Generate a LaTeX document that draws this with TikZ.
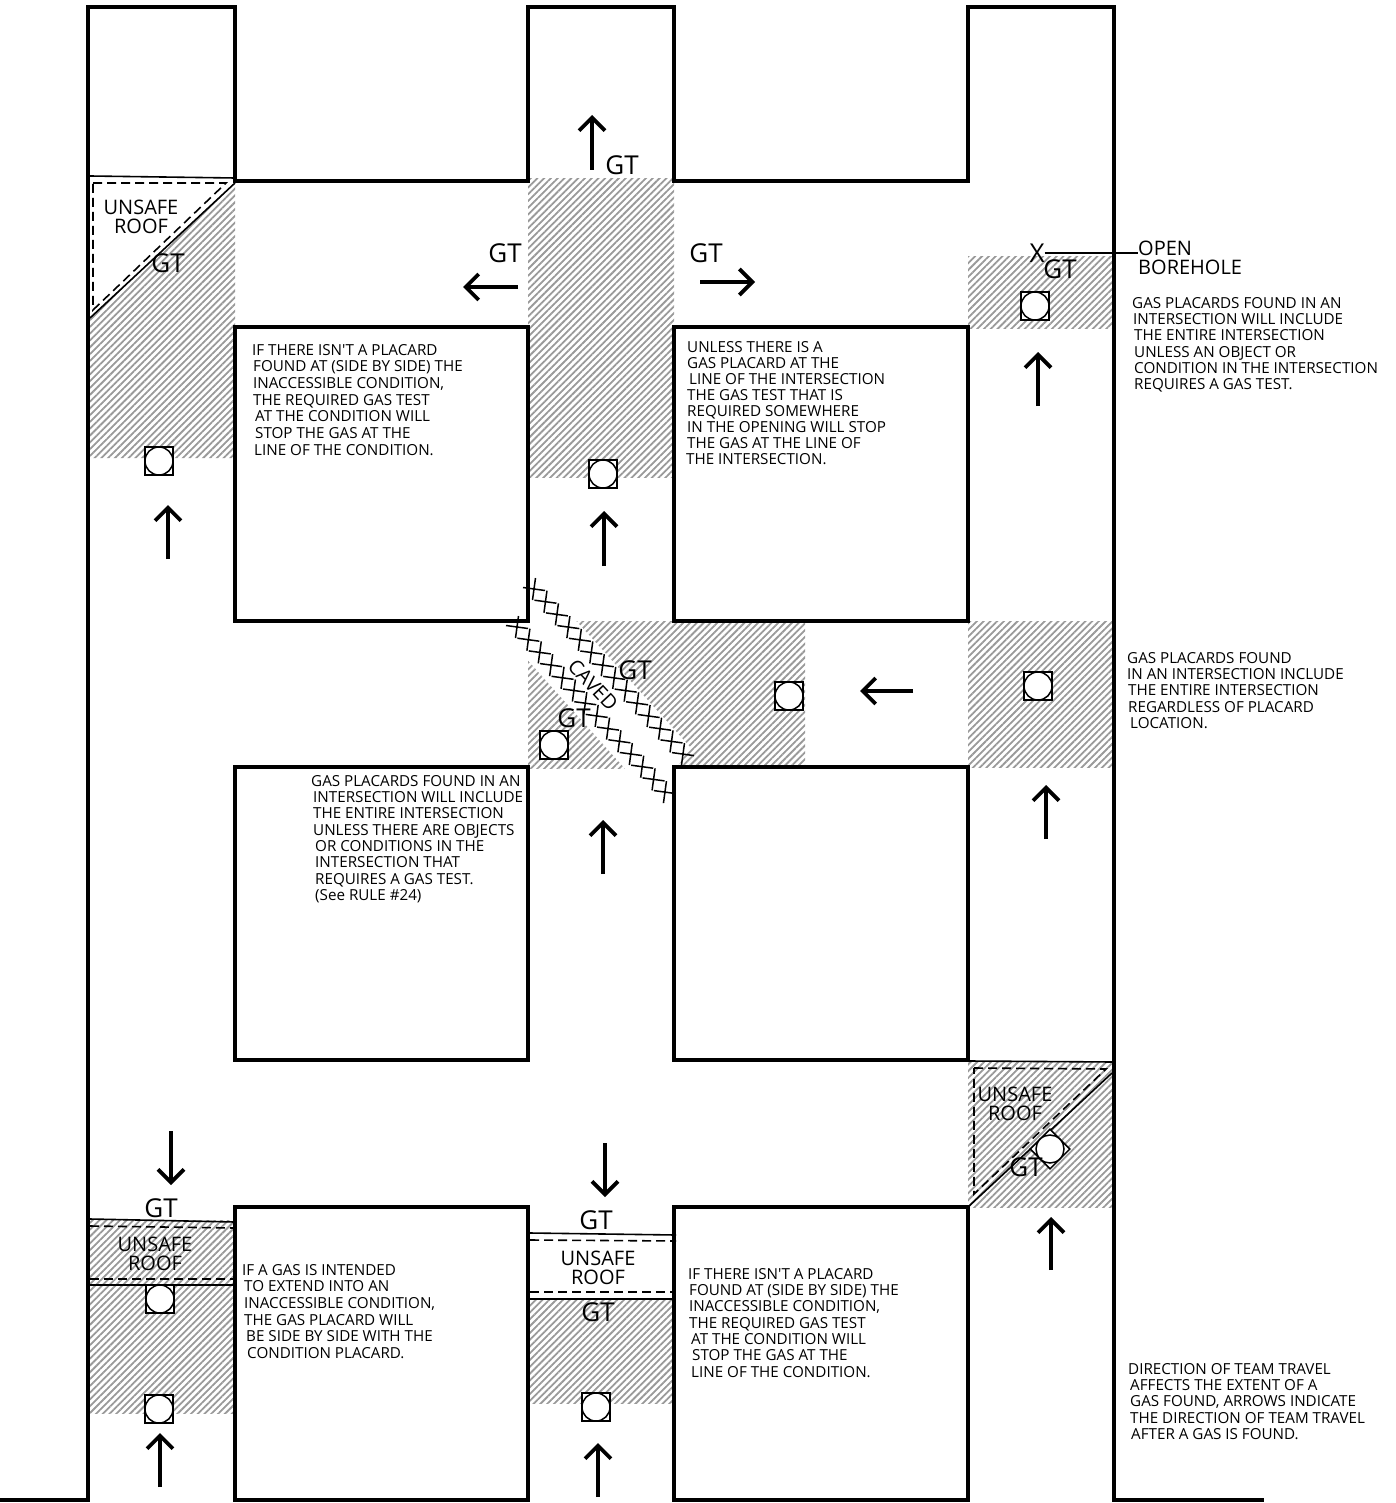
\documentclass[tikz,border=0pt]{standalone}
\usepackage{fontspec}
\setmainfont{Open Sans}
\usetikzlibrary{arrows.meta,patterns.meta}
\tikzset{
	wall/.style={line width=4.8pt,line cap=rect,miter limit=10},
	hatched/.style={pattern={Lines[angle=45,distance=4.8pt,line width=1.8pt]},pattern color=black!40},
	roofline/.style={line width=1.6pt},
	roofdash/.style={line width=1.6pt,dash pattern=on 9pt off 5pt},
	travel/.style={line width=3.8pt,-{Straight Barb[length=13pt,width=26pt,line width=3.8pt]}},
	railtick/.style={line width=1.5pt},
	note/.style={anchor=north west,inner sep=0pt,align=left,font=\fontsize{15.2}{16.3}\selectfont},
	bigtag/.style={inner sep=0pt,font=\fontsize{26}{28}\selectfont},
	rooftag/.style={inner sep=0pt,align=center,font=\fontsize{20}{18.5}\selectfont},
	placard/.pic={
		\draw[line width=1.5pt,fill=white] (-14,-14) rectangle (14,14);
		\draw[line width=1.5pt,fill=white] (0,0) circle (14);
	}
}
\begin{document}
\begin{tikzpicture}[x=1pt,y=-1pt]
	\useasboundingbox (0,0) rectangle (1395,1503);
	
	% gas areas
	\fill[hatched] (235,183) -- (235,458) -- (90,458) -- (90,318) -- cycle;
	\fill[hatched] (528,179) rectangle (674,477);
	\fill[hatched] (968,257) rectangle (1114,328);
	\fill[hatched] (528,621) rectangle (805,768);
	\fill[white] (541,582) -- (690,747) -- (655,802) -- (507,637) -- cycle;
	\fill[hatched] (968,621) rectangle (1114,767);
	\fill[hatched] (968,1061) rectangle (1114,1207);
	\fill[hatched] (90,1220) rectangle (233,1413);
	\fill[hatched] (530,1299) rectangle (672,1403);
	
	% entries and pillars
	\draw[wall] (0,1500) -- (88,1500) -- (88,7) -- (235,7) -- (235,181) -- (528,181) -- (528,7) -- (674,7) -- (674,181) -- (968,181) -- (968,7) -- (1114,7) -- (1114,1500) -- (1262,1500);
	\draw[wall] (235,327) rectangle (528,621);
	\draw[wall] (674,327) rectangle (968,621);
	\draw[wall] (235,767) rectangle (528,1060);
	\draw[wall] (674,767) rectangle (968,1060);
	\draw[wall] (235,1500) -- (235,1207) -- (528,1207) -- (528,1500) -- cycle;
	\draw[wall] (674,1500) -- (674,1207) -- (968,1207) -- (968,1500) -- cycle;
	
	% unsafe roof
	\draw[roofline] (90,176) -- (235,178);
	\draw[roofline] (90,318) -- (235,183);
	\draw[roofdash] (93,183) -- (226,183) -- (93,310) -- cycle;
	\draw[roofline] (970,1061) -- (1114,1062);
	\draw[roofline] (968,1207) -- (1112,1073);
	\draw[roofdash] (974,1068) -- (1106,1069) -- (974,1194) -- cycle;
	\draw[roofline] (90,1219) -- (235,1222);
	\draw[roofdash] (90,1226) -- (235,1228);
	\draw[roofdash] (90,1279) -- (235,1279);
	\draw[roofline] (90,1285) -- (235,1285);
	\draw[roofline] (530,1233) -- (676,1235);
	\draw[roofdash] (530,1240) -- (676,1241);
	\draw[roofdash] (530,1292) -- (674,1292);
	\draw[roofline] (530,1299) -- (674,1299);
	\node[rooftag] (roofA) at (141,217) {UNSAFE\\ROOF};
	\node[rooftag] (roofB) at (1015,1104) {UNSAFE\\ROOF};
	\node[rooftag] (roofC) at (155,1254) {UNSAFE\\ROOF};
	\node[rooftag] (roofD) at (598,1268) {UNSAFE\\ROOF};
	
	% caved area
	\foreach \i in {0,...,13} {
		\draw[railtick,shift={({534+\i*11.46},{589+\i*12.7})}] (-11,-1.5) -- (11,1.5) (1.5,-11) -- (-1.5,11);
		\draw[railtick,shift={({517+\i*11.38},{627+\i*12.7})}] (-11,-1.5) -- (11,1.5) (1.5,-11) -- (-1.5,11);
	}
	\node[inner sep=0pt,rotate=-47,font=\fontsize{20}{22}\selectfont] (caved) at (593,685) {CAVED};
	
	% placards
	\foreach \px/\py in {159/461,603/474,1035/306,789/696,554/745,1038/686,160/1299,159/1409,596/1407}
		\pic at (\px,\py) {placard};
	\pic[rotate=45] at (1050,1149) {placard};
	
	% team travel
	\draw[travel] (168,559) -- (168,505);
	\draw[travel] (604,566) -- (604,511);
	\draw[travel] (1038,406) -- (1038,352);
	\draw[travel] (592,170) -- (592,115);
	\draw[travel] (518,287) -- (463,287);
	\draw[travel] (700,282) -- (755,282);
	\draw[travel] (913,691) -- (860,691);
	\draw[travel] (1046,839) -- (1046,785);
	\draw[travel] (603,874) -- (603,820);
	\draw[travel] (1051,1270) -- (1051,1217);
	\draw[travel] (171,1131) -- (171,1185);
	\draw[travel] (605,1143) -- (605,1197);
	\draw[travel] (160,1487) -- (160,1433);
	\draw[travel] (598,1497) -- (598,1443);
	
	% gas tests
	\node[bigtag] (gtTop) at (622,165) {GT};
	\node[bigtag] (gtWest) at (505,253) {GT};
	\node[bigtag] (gtEast) at (706,253) {GT};
	\node[bigtag] (gtRoofA) at (168,263) {GT};
	\node[bigtag] (gtBore) at (1060,269) {GT};
	\node[bigtag] (gtRoofC) at (161,1208) {GT};
	\node[bigtag] (gtRoofD) at (596,1220) {GT};
	\node[bigtag] (gtBelowD) at (598,1312) {GT};
	\node[bigtag] (gtRoofB) at (1026,1167) {GT};
	\node[bigtag] (gtCavedA) at (635,670) {GT};
	\node[bigtag] (gtCavedB) at (574,718) {GT};
	
	% borehole
	\node[bigtag] (boreX) at (1037,253) {X};
	\node[rooftag,anchor=west,align=left] (boreTag) at (1138,258) {OPEN\\BOREHOLE};
	\draw[line width=1.4pt] (boreX.east) -- (boreX.east -| boreTag.west);
	
	% notes
	\node[note,font=\fontsize{15.2}{16.65}\selectfont] (noteA) at (252,344) {IF THERE ISN\textquotesingle T A PLACARD\\\hspace*{1pt}FOUND AT (SIDE BY SIDE) THE\\\hspace*{1pt}INACCESSIBLE CONDITION,\\\hspace*{1pt}THE REQUIRED GAS TEST\\\hspace*{3pt}AT THE CONDITION WILL\\\hspace*{3pt}STOP THE GAS AT THE\\\hspace*{2pt}LINE OF THE CONDITION.};
	\node[note,font=\fontsize{15.2}{16}\selectfont] (noteB) at (686,341) {\hspace*{1pt}UNLESS THERE IS A\\\hspace*{1pt}GAS PLACARD AT THE\\\hspace*{3pt}LINE OF THE INTERSECTION\\\hspace*{1pt}THE GAS TEST THAT IS\\\hspace*{1pt}REQUIRED SOMEWHERE\\\hspace*{1pt}IN THE OPENING WILL STOP\\\hspace*{1pt}THE GAS AT THE LINE OF\\THE INTERSECTION.};
	\node[note] (noteC) at (1132,297) {GAS PLACARDS FOUND IN AN\\\hspace*{1pt}INTERSECTION WILL INCLUDE\\\hspace*{2pt}THE ENTIRE INTERSECTION\\\hspace*{2pt}UNLESS AN OBJECT OR\\\hspace*{2pt}CONDITION IN THE INTERSECTION\\\hspace*{2pt}REQUIRES A GAS TEST.};
	\node[note] (noteD) at (1127,652) {GAS PLACARDS FOUND\\IN AN INTERSECTION INCLUDE\\\hspace*{1pt}THE ENTIRE INTERSECTION\\\hspace*{1pt}REGARDLESS OF PLACARD\\\hspace*{3pt}LOCATION.};
	\node[note] (noteE) at (311,775) {GAS PLACARDS FOUND IN AN\\\hspace*{2pt}INTERSECTION WILL INCLUDE\\\hspace*{2pt}THE ENTIRE INTERSECTION\\\hspace*{2pt}UNLESS THERE ARE OBJECTS\\\hspace*{4pt}OR CONDITIONS IN THE\\\hspace*{4pt}INTERSECTION THAT\\\hspace*{4pt}REQUIRES A GAS TEST.\\\hspace*{4pt}(See RULE \#24)};
	\node[note,font=\fontsize{15.2}{16.6}\selectfont] (noteF) at (242,1264) {IF A GAS IS INTENDED\\\hspace*{2pt}TO EXTEND INTO AN\\\hspace*{2pt}INACCESSIBLE CONDITION,\\\hspace*{2pt}THE GAS PLACARD WILL\\\hspace*{4pt}BE SIDE BY SIDE WITH THE\\\hspace*{5pt}CONDITION PLACARD.};
	\node[note] (noteG) at (688,1268) {IF THERE ISN\textquotesingle T A PLACARD\\\hspace*{1pt}FOUND AT (SIDE BY SIDE) THE\\\hspace*{1pt}INACCESSIBLE CONDITION,\\\hspace*{1pt}THE REQUIRED GAS TEST\\\hspace*{3pt}AT THE CONDITION WILL\\\hspace*{4pt}STOP THE GAS AT THE\\\hspace*{3pt}LINE OF THE CONDITION.};
	\node[note] (noteH) at (1128,1363) {DIRECTION OF TEAM TRAVEL\\\hspace*{2pt}AFFECTS THE EXTENT OF A\\\hspace*{2pt}GAS FOUND, ARROWS INDICATE\\\hspace*{2pt}THE DIRECTION OF TEAM TRAVEL\\\hspace*{3pt}AFTER A GAS IS FOUND.};
\end{tikzpicture}
\end{document}
